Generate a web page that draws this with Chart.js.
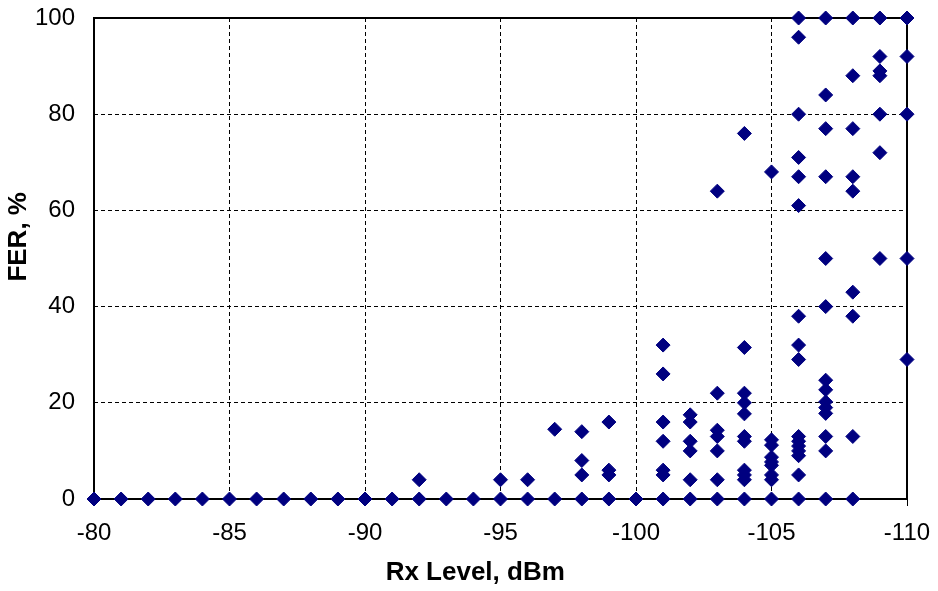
<!DOCTYPE html>
<html lang="en">
<head>
    <meta charset="UTF-8">
    <title>FER vs Rx Level</title>
    <script src="https://cdn.jsdelivr.net/npm/chart.js"></script>
    <style>
        body {
            margin: 0;
            padding: 0;
            background-color: #ffffff;
        }
    </style>
</head>
<body>
    <canvas id="ferChart" width="938" height="591"></canvas>

    <script>
        // Rx levels where FER was 0
        const zeroRx = [-80, -81, -82, -83, -84, -85, -86, -87, -88, -89, -90, -91, -92, -93, -94,
                        -95, -96, -97, -98, -99, -100, -101, -102, -103, -104, -105, -106, -107, -108];

        // Measurements with FER above 0 (same index in both arrays)
        const rxLevel = [
            -92, -95, -96, -97,
            -98, -98, -98,
            -99, -99, -99,
            -101, -101, -101, -101, -101, -101,
            -102, -102, -102, -102, -102,
            -103, -103, -103, -103, -103, -103,
            -104, -104, -104, -104, -104, -104, -104, -104, -104, -104,
            -105, -105, -105, -105, -105, -105, -105, -105,
            -106, -106, -106, -106, -106, -106, -106, -106, -106, -106, -106, -106, -106, -106, -106,
            -107, -107, -107, -107, -107, -107, -107, -107, -107, -107, -107, -107, -107,
            -108, -108, -108, -108, -108, -108, -108, -108,
            -109, -109, -109, -109, -109, -109, -109,
            -110, -110, -110, -110, -110
        ];
        const fer = [
            4, 4, 4, 14.5,
            14, 8, 5,
            16, 6, 5,
            32, 26, 16, 12, 6, 5,
            17.5, 16, 12, 10, 4,
            64, 22, 14.3, 13, 10, 4,
            76, 31.5, 22, 20, 17.7, 13, 12, 6, 5, 4,
            68, 12.3, 11.2, 8.7, 7.7, 7, 5, 4,
            100, 96, 80, 71, 67, 61, 38, 32, 29, 13, 12, 11, 10, 9, 5,
            100, 84, 77, 67, 50, 40, 24.7, 22.7, 20.2, 19, 17.8, 13, 10,
            100, 88, 77, 67, 64, 43, 38, 13,
            100, 92, 89, 88, 80, 72, 50,
            100, 92, 80, 50, 29
        ];

        const xTicks = [-80, -85, -90, -95, -100, -105, -110];
        const yTicks = [0, 20, 40, 60, 80, 100];

        const points = zeroRx.map(x => ({ x: x, y: 0 }))
            .concat(rxLevel.map((x, i) => ({ x: x, y: fer[i] })));

        // black frame round the plot area
        const frame = {
            id: 'frame',
            beforeDatasetsDraw(chart) {
                const { ctx, chartArea } = chart;
                ctx.save();
                ctx.strokeStyle = '#000';
                ctx.lineWidth = 2;
                ctx.strokeRect(chartArea.left, chartArea.top, chartArea.right - chartArea.left, chartArea.bottom - chartArea.top);
                ctx.restore();
            }
        };

        const tickFont = { family: "'Liberation Sans', Arial, sans-serif", size: 24 };
        const titleFont = { family: "'Liberation Sans', Arial, sans-serif", size: 26, weight: 'bold' };

        new Chart(document.getElementById('ferChart'), {
            type: 'scatter',
            data: {
                datasets: [{
                    data: points,
                    pointStyle: 'rectRot',
                    pointRadius: 7,
                    pointHoverRadius: 7,
                    backgroundColor: '#000080',
                    borderColor: '#000080',
                    borderWidth: 1,
                    clip: false
                }]
            },
            options: {
                responsive: false,
                animation: false,
                layout: { padding: { left: 0, right: 31, top: 18, bottom: 0 } },
                plugins: {
                    legend: { display: false },
                    tooltip: { enabled: false }
                },
                scales: {
                    x: {
                        type: 'linear',
                        min: -110,
                        max: -80,
                        reverse: true,
                        afterBuildTicks: scale => { scale.ticks = xTicks.map(v => ({ value: v })); },
                        afterFit: scale => {
                            scale.height = 92;
                            scale.paddingLeft = 0;
                            scale.paddingRight = 0;
                        },
                        ticks: {
                            color: '#000',
                            font: tickFont,
                            padding: 13,
                            maxRotation: 0,
                            callback: v => String(v)
                        },
                        grid: {
                            color: '#000',
                            lineWidth: 1,
                            tickBorderDash: [],
                            tickColor: '#000',
                            tickLength: 7
                        },
                        border: { display: false, dash: [4, 3] },
                        title: {
                            display: true,
                            text: 'Rx Level, dBm       ',
                            color: '#000',
                            font: titleFont,
                            padding: { top: 0, bottom: 3 }
                        }
                    },
                    y: {
                        min: 0,
                        max: 100,
                        afterBuildTicks: scale => { scale.ticks = yTicks.map(v => ({ value: v })); },
                        afterFit: scale => {
                            scale.width = 94;
                            scale.paddingTop = 0;
                            scale.paddingBottom = 0;
                        },
                        ticks: {
                            color: '#000',
                            font: tickFont,
                            padding: 19
                        },
                        grid: {
                            color: '#000',
                            lineWidth: 1,
                            drawTicks: false
                        },
                        border: { display: false, dash: [4, 3] },
                        title: {
                            display: true,
                            text: '      FER, %',
                            color: '#000',
                            font: titleFont,
                            padding: { top: 3, bottom: 0 }
                        }
                    }
                }
            },
            plugins: [frame]
        });
    </script>
</body>
</html>
